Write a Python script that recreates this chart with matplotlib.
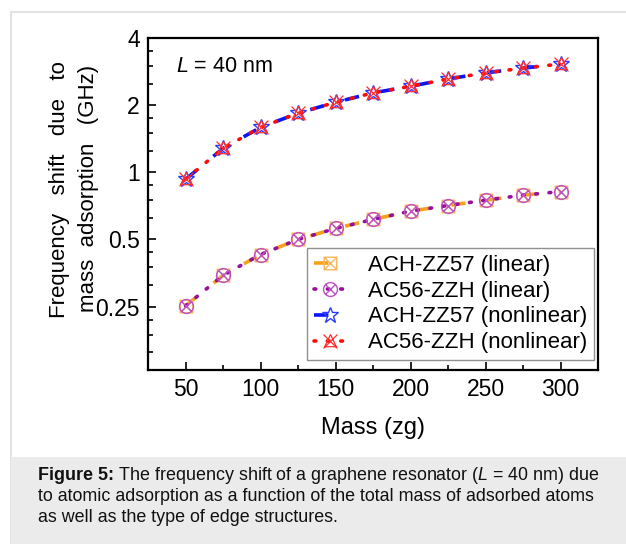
import numpy as np
import matplotlib
matplotlib.use("Agg")
import matplotlib.pyplot as plt
from matplotlib.path import Path
from matplotlib.patches import Rectangle
from matplotlib.ticker import FixedLocator, FixedFormatter, NullFormatter

plt.rcParams['font.family'] = ['Liberation Sans', 'DejaVu Sans']
plt.rcParams['mathtext.fontset'] = 'custom'
plt.rcParams['mathtext.rm'] = 'Liberation Sans'
plt.rcParams['mathtext.it'] = 'Liberation Sans:italic'
plt.rcParams['mathtext.bf'] = 'Liberation Sans:bold'

# data
mass = [50, 75, 100, 125, 150, 175, 200, 225, 250, 275, 300]
ach_linear = [0.252, 0.345, 0.428, 0.50, 0.56, 0.615, 0.67, 0.71, 0.75, 0.79, 0.82]
ac56_linear = [0.252, 0.345, 0.428, 0.50, 0.56, 0.615, 0.67, 0.71, 0.75, 0.79, 0.82]
ach_nonlinear = [0.93, 1.28, 1.59, 1.84, 2.06, 2.27, 2.43, 2.62, 2.79, 2.93, 3.06]
ac56_nonlinear = [0.93, 1.28, 1.59, 1.84, 2.06, 2.27, 2.43, 2.62, 2.79, 2.93, 3.06]

labels = ['ACH-ZZ57 (linear)', 'AC56-ZZH (linear)',
          'ACH-ZZ57 (nonlinear)', 'AC56-ZZH (nonlinear)']
y_major = [0.25, 0.5, 1, 2, 4]
y_major_labels = ['0.25', '0.5', '1', '2', '4']
x_major = [50, 100, 150, 200, 250, 300]
x_minor = [75, 125, 175, 225, 275]


# custom markers: square with cross, circle with cross, triangle with cross
def cross():
    return Path([(-1, -1), (1, 1), (-1, 1), (1, -1)],
                [Path.MOVETO, Path.LINETO, Path.MOVETO, Path.LINETO])

sq = Path([(-1, -1), (1, -1), (1, 1), (-1, 1), (-1, -1)],
          [Path.MOVETO, Path.LINETO, Path.LINETO, Path.LINETO, Path.CLOSEPOLY])
sq_x = Path.make_compound_path(sq, cross())
c = Path.unit_circle()
k = 0.707
circ_x = Path.make_compound_path(
    c, Path([(-k, -k), (k, k), (-k, k), (k, -k)],
            [Path.MOVETO, Path.LINETO, Path.MOVETO, Path.LINETO]))
tri = Path([(0, 1), (-0.85, -0.75), (0.85, -0.75), (0, 1)],
           [Path.MOVETO, Path.LINETO, Path.LINETO, Path.CLOSEPOLY])
tri_x = Path.make_compound_path(tri, cross())

fig = plt.figure(figsize=(6.26, 5.44), dpi=100)

# page frame and caption box
fig.add_artist(Rectangle((11 / 626, 0), 1.0, 1 - 12 / 544, transform=fig.transFigure,
                         facecolor='white', edgecolor='#e3e3e3', linewidth=1.5, zorder=-10))
fig.add_artist(Rectangle((11 / 626, 0), 1.0, (544 - 457) / 544, transform=fig.transFigure,
                         facecolor='#ebebeb', edgecolor='none', zorder=-9))

ax = fig.add_axes([148 / 626, 1 - 370 / 544, 450 / 626, 332 / 544])
ax.set_facecolor('none')

ax.plot(mass, ach_linear, color='#f7a11a', lw=2.6, ls=(0, (4, 6)),
        marker=sq_x, ms=9, mfc='none', mec='#f5b55a', mew=1.0, label=labels[0], zorder=3)
ax.plot(mass, ac56_linear, color='#96109b', lw=2.6, ls=(0, (0.5, 3.2)), dash_capstyle='round',
        marker=circ_x, ms=10, mfc='none', mec='#c052c6', mew=1.0, label=labels[1], zorder=4)
ax.plot(mass, ach_nonlinear, color='#0a14f5', lw=2.6, ls=(0, (4, 6)),
        marker='*', ms=12, mfc='none', mec='#2a3cff', mew=1.0, label=labels[2], zorder=3)
ax.plot(mass, ac56_nonlinear, color='#ff0a0a', lw=2.6, ls=(0, (0.5, 3.2)), dash_capstyle='round',
        marker=tri_x, ms=10, mfc='none', mec='#ff3030', mew=0.9, label=labels[3], zorder=4)

ax.set_yscale('log', base=2)
ax.set_ylim(0.13, 4)
ax.set_xlim(25, 325)
ax.yaxis.set_major_locator(FixedLocator(y_major))
ax.yaxis.set_major_formatter(FixedFormatter(y_major_labels))
y_minor = [b * m for b in [0.125, 0.25, 0.5, 1, 2] for m in (1.25, 1.5, 1.75)]
ax.yaxis.set_minor_locator(FixedLocator(y_minor))
ax.yaxis.set_minor_formatter(NullFormatter())
ax.xaxis.set_major_locator(FixedLocator(x_major))
ax.xaxis.set_minor_locator(FixedLocator(x_minor))

ax.tick_params(which='both', direction='in', labelsize=16.5, width=1.2, pad=6)
ax.tick_params(which='major', length=6)
ax.tick_params(which='minor', length=3.5)
for s in ax.spines.values():
    s.set_linewidth(1.6)

ax.set_xlabel('Mass (zg)', fontsize=17, labelpad=11)
fig.text(60 / 626, 1 - 190 / 544, 'Frequency   shift   due   to', rotation=90,
         ha='center', va='center', fontsize=16)
fig.text(89 / 626, 1 - 188 / 544, 'mass  adsorption   (GHz)', rotation=90,
         ha='center', va='center', fontsize=16)

ax.text(176 / 626, 1 - 66 / 544, r'$\mathit{L}$ = 40 nm', transform=fig.transFigure,
        ha='left', va='center', fontsize=15.5)

ax.legend(loc='upper left', bbox_to_anchor=(307 / 626, 1 - 248 / 544),
          bbox_transform=fig.transFigure, fontsize=16, frameon=True, fancybox=False,
          edgecolor='#909090', framealpha=1, handlelength=1.5, handletextpad=0.95,
          labelspacing=0.22, borderpad=0.3, borderaxespad=0, numpoints=1)

# caption: bold label, then the rest right after it
cap_size = 12.9
head = fig.text(38 / 626, 1 - 475 / 544, 'Figure 5:', ha='left', va='center',
                fontsize=cap_size, fontweight='bold', color='#111111')
ax.annotate(r' The frequency shift of a graphene resonator ($\mathit{L}$ = 40 nm) due',
            xy=(1, 0.5), xycoords=head, ha='left', va='center',
            fontsize=cap_size, color='#111111', annotation_clip=False)
caption_rest = ['to atomic adsorption as a function of the total mass of adsorbed atoms',
                'as well as the type of edge structures.']
for i, line in enumerate(caption_rest):
    fig.text(38 / 626, 1 - (496.5 + 21.5 * i) / 544, line, ha='left', va='center',
             fontsize=cap_size, color='#111111')

fig.savefig('out.png', dpi=100)
